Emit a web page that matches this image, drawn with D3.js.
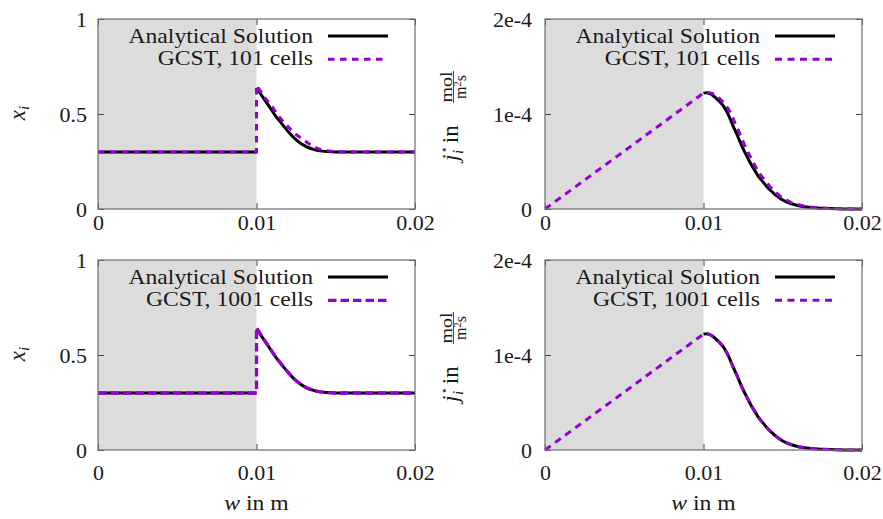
<html>
<head>
  <meta charset="utf-8">
  <title>GCST vs analytical</title>
  <script src="https://cdn.jsdelivr.net/npm/d3@7"></script>
</head>
<body style="margin:0; background:#fff">
<script>
// ticks
const wTicks = [0, 0.01, 0.02];
const wTickLabels = ["0", "0.01", "0.02"];
const xiTicks = [0, 0.5, 1];
const xiTickLabels = ["0", "0.5", "1"];
const jTicks = [0, 1e-4, 2e-4];
const jTickLabels = ["0", "1e-4", "2e-4"];

// mole fraction x_i, analytical (null = gap at the jump)
const xiAnaW = [0, 0.01, null, 0.01, 0.0104, 0.0108, 0.0112, 0.0116, 0.012, 0.0124, 0.0128, 0.0132, 0.0136, 0.014, 0.0145, 0.015, 0.016, 0.018, 0.02];
const xiAnaV = [0.3, 0.3, null, 0.637, 0.589, 0.540, 0.490, 0.448, 0.408, 0.372, 0.345, 0.326, 0.314, 0.306, 0.302, 0.300, 0.300, 0.300, 0.300];
// GCST 101 cells
const xi101W = [0, 0.01, 0.01, 0.0105, 0.011, 0.0114, 0.0119, 0.0124, 0.013, 0.0135, 0.0141, 0.015, 0.016, 0.018, 0.02];
const xi101V = [0.3, 0.3, 0.652, 0.588, 0.538, 0.488, 0.441, 0.398, 0.362, 0.332, 0.310, 0.301, 0.300, 0.300, 0.300];
// GCST 1001 cells
const xi1001W = [0, 0.01, 0.01, 0.0104, 0.0108, 0.0112, 0.0116, 0.012, 0.0124, 0.0128, 0.0132, 0.0136, 0.014, 0.0145, 0.015, 0.016, 0.018, 0.02];
const xi1001V = [0.3, 0.3, 0.645, 0.590, 0.541, 0.491, 0.448, 0.408, 0.372, 0.345, 0.326, 0.314, 0.306, 0.302, 0.300, 0.300, 0.300, 0.300];

// flux j_i*, analytical
const jAnaW = [0.01, 0.0102, 0.0104, 0.0106, 0.0108, 0.011, 0.0112, 0.0114, 0.0116, 0.0118, 0.012, 0.0122, 0.0124, 0.0126, 0.0128, 0.013, 0.0132, 0.0134, 0.0136, 0.0138, 0.014, 0.0142, 0.0144, 0.0146, 0.0148, 0.015, 0.0155, 0.016, 0.0165, 0.017, 0.018, 0.019, 0.02];
const jAnaV = [1.22e-4, 1.225e-4, 1.215e-4, 1.195e-4, 1.165e-4, 1.135e-4, 1.095e-4, 1.045e-4, 0.98e-4, 0.90e-4, 0.825e-4, 0.75e-4, 0.67e-4, 0.60e-4, 0.535e-4, 0.47e-4, 0.415e-4, 0.36e-4, 0.315e-4, 0.275e-4, 0.235e-4, 0.20e-4, 0.17e-4, 0.14e-4, 0.115e-4, 0.095e-4, 0.058e-4, 0.035e-4, 0.02e-4, 0.012e-4, 0.004e-4, 0.001e-4, 0];
// GCST 101 cells
const j101W = [0, 0.01, 0.0103, 0.0106, 0.0108, 0.011, 0.0112, 0.0114, 0.0116, 0.0118, 0.012, 0.0122, 0.0124, 0.0126, 0.0128, 0.013, 0.0132, 0.0134, 0.0136, 0.0138, 0.014, 0.0142, 0.0144, 0.0146, 0.0148, 0.015, 0.0155, 0.016, 0.0165, 0.017, 0.018, 0.019, 0.02];
const j101V = [0, 1.22e-4, 1.225e-4, 1.215e-4, 1.195e-4, 1.165e-4, 1.135e-4, 1.095e-4, 1.045e-4, 0.98e-4, 0.90e-4, 0.825e-4, 0.75e-4, 0.67e-4, 0.60e-4, 0.535e-4, 0.47e-4, 0.415e-4, 0.36e-4, 0.315e-4, 0.275e-4, 0.235e-4, 0.20e-4, 0.17e-4, 0.14e-4, 0.115e-4, 0.07e-4, 0.045e-4, 0.025e-4, 0.015e-4, 0.006e-4, 0.002e-4, 0];
// GCST 1001 cells: lies on the analytical curve, plus the linear part
const j1001W = [0, 0.01, 0.0102, 0.0104, 0.0106, 0.0108, 0.011, 0.0112, 0.0114, 0.0116, 0.0118, 0.012, 0.0122, 0.0124, 0.0126, 0.0128, 0.013, 0.0132, 0.0134, 0.0136, 0.0138, 0.014, 0.0142, 0.0144, 0.0146, 0.0148, 0.015, 0.0155, 0.016, 0.0165, 0.017, 0.018, 0.019, 0.02];
const j1001V = [0, 1.22e-4, 1.225e-4, 1.215e-4, 1.195e-4, 1.165e-4, 1.135e-4, 1.095e-4, 1.045e-4, 0.98e-4, 0.90e-4, 0.825e-4, 0.75e-4, 0.67e-4, 0.60e-4, 0.535e-4, 0.47e-4, 0.415e-4, 0.36e-4, 0.315e-4, 0.275e-4, 0.235e-4, 0.20e-4, 0.17e-4, 0.14e-4, 0.115e-4, 0.095e-4, 0.058e-4, 0.035e-4, 0.02e-4, 0.012e-4, 0.004e-4, 0.001e-4, 0];

const gap = 0.01; // end of the grey region
const purple = "#9400d3";
const frameCol = "#777";
const ink = "#1a1a1a";
const serif = '"Liberation Serif"';
const stretch = 1.075; // CM is a bit wider than Times

const svg = d3.select("body").append("svg")
  .attr("width", 883)
  .attr("height", 519);

const zip = (ws, vs) => ws.map((w, i) => ({ w: w, v: vs[i] }));

// text helper, font set as inline style
function txt(parent, size) {
  return parent.append("text")
    .style("font-family", serif).style("font-size", size + "px").style("fill", ink);
}

function panel(p) {
  const x = d3.scaleLinear().domain([0, 0.02]).range([p.x0, p.x1]);
  const y = d3.scaleLinear().domain(p.yDomain).range([p.y1, p.y0]);
  const g = svg.append("g");

  // grey area left of 0.01
  g.append("rect")
    .attr("x", x(0)).attr("y", p.y0)
    .attr("width", x(gap) - x(0)).attr("height", p.y1 - p.y0)
    .attr("fill", "#dcdcdc");

  // axes, ticks pointing inward
  const xb = d3.axisBottom(x).tickValues(wTicks)
    .tickFormat((d, i) => wTickLabels[i])
    .tickSizeInner(-6).tickSizeOuter(0).tickPadding(p.xPad);
  const xt = d3.axisTop(x).tickValues(wTicks).tickFormat("").tickSizeInner(-6).tickSizeOuter(0);
  const yl = d3.axisLeft(y).tickValues(p.yTicks)
    .tickFormat((d, i) => p.yLabels[i])
    .tickSizeInner(-6).tickSizeOuter(0).tickPadding(p.yPad);
  const yr = d3.axisRight(y).tickValues(p.yTicks).tickFormat("").tickSizeInner(-6).tickSizeOuter(0);

  [[xb, `translate(0,${p.y1})`, null], [xt, `translate(0,${p.y0})`, null],
   [yl, `translate(${p.x0},0)`, "0.34em"], [yr, `translate(${p.x1},0)`, null]].forEach(([ax, tr, dy]) => {
    const a = g.append("g").attr("transform", tr).call(ax);
    a.select(".domain").remove();
    a.selectAll("line").attr("stroke", "#444").attr("stroke-width", 1);
    a.selectAll("text")
      .style("font-family", serif)
      .style("font-size", "22px").style("fill", ink);
    if (dy) a.selectAll("text").attr("dy", dy);
  });

  // curves
  const line = d3.line()
    .defined(d => d.v != null)
    .x(d => x(d.w)).y(d => y(d.v));

  g.append("path")
    .attr("d", line.curve(d3.curveMonotoneX)(zip(p.ana[0], p.ana[1])))
    .attr("fill", "none").attr("stroke", "#000").attr("stroke-width", 3);
  g.append("path")
    .attr("d", line.curve(d3.curveLinear)(zip(p.num[0], p.num[1])))
    .attr("fill", "none").attr("stroke", purple).attr("stroke-width", p.dashW)
    .attr("stroke-dasharray", p.dash);

  // frame
  g.append("rect")
    .attr("x", p.x0).attr("y", p.y0)
    .attr("width", p.x1 - p.x0).attr("height", p.y1 - p.y0)
    .attr("fill", "none").attr("stroke", frameCol).attr("stroke-width", 1.3);

  // legend
  const lx = p.x1 - 102;
  const entries = [
    { label: "Analytical Solution", col: "#000", dash: null, w: 3 },
    { label: p.numLabel, col: purple, dash: p.dash, w: p.dashW }
  ];
  entries.forEach((e, i) => {
    const t = txt(g, 22)
      .attr("x", lx).attr("y", p.y0 + 23.7 + i * 22.3)
      .attr("text-anchor", "end")
      .text(e.label);
    t.attr("textLength", t.node().getComputedTextLength() * stretch)
      .attr("lengthAdjust", "spacingAndGlyphs");
    g.append("line")
      .attr("x1", p.x1 - 87).attr("x2", p.x1 - 27)
      .attr("y1", p.y0 + 17 + i * 23.3).attr("y2", p.y0 + 17 + i * 23.3)
      .attr("stroke", e.col).attr("stroke-width", e.w)
      .attr("stroke-dasharray", e.dash);
  });

  // y label
  const cy = (p.y0 + p.y1) / 2;
  if (p.kind === "xi") {
    const yl2 = svg.append("g").attr("transform", `translate(25,${cy - 1}) rotate(-90)`);
    const t = txt(yl2, 23).attr("text-anchor", "middle");
    t.append("tspan").style("font-style", "italic").text("x");
    t.append("tspan").style("font-style", "italic").style("font-size", "15px").attr("dy", 4).text("i");
  } else {
    const lg = svg.append("g").attr("transform", `translate(${p.x0 - 87},${cy + 2}) rotate(-90)`);
    const t = txt(lg, 23).attr("x", -45);
    t.append("tspan").style("font-style", "italic").text("j");
    t.append("tspan").style("font-family", '"DejaVu Sans"').style("font-size", "12px").attr("dy", -10).attr("dx", 1).text("⋆");
    t.append("tspan").style("font-style", "italic").style("font-size", "15px").attr("dy", 15).attr("dx", -8).text("i");
    t.append("tspan").attr("dy", -5).attr("dx", 1).text(" in");
    txt(lg, 16).attr("x", 29).attr("y", -6.5)
      .attr("text-anchor", "middle")
      .attr("textLength", 31).attr("lengthAdjust", "spacingAndGlyphs")
      .text("mol");
    lg.append("line").attr("x1", 13).attr("x2", 45).attr("y1", -4.5).attr("y2", -4.5)
      .attr("stroke", ink).attr("stroke-width", 0.8);
    const ms = txt(lg, 16).attr("x", 29).attr("y", 8)
      .attr("text-anchor", "middle");
    ms.append("tspan").text("m");
    ms.append("tspan").style("font-size", "11px").attr("dy", -5).text("2");
    ms.append("tspan").attr("dy", 5).text("s");
  }

  // x label on bottom row
  if (p.xLabel) {
    const t = txt(svg, 22)
      .attr("x", (p.x0 + p.x1) / 2).attr("y", 510)
      .attr("text-anchor", "middle");
    t.append("tspan").style("font-style", "italic").text("w");
    t.append("tspan").text(" in m");
    t.attr("textLength", t.node().getComputedTextLength() * stretch)
      .attr("lengthAdjust", "spacingAndGlyphs");
  }
}

panel({ kind: "xi", x0: 98, x1: 415, y0: 19, y1: 209, yDomain: [0, 1], yTicks: xiTicks, yLabels: xiTickLabels,
  xPad: 5, yPad: 11, ana: [xiAnaW, xiAnaV], num: [xi101W, xi101V], numLabel: "GCST, 101 cells",
  dash: "6.5,5.5", dashW: 3 });
panel({ kind: "j", x0: 545, x1: 862, y0: 19, y1: 209, yDomain: [0, 2e-4], yTicks: jTicks, yLabels: jTickLabels,
  xPad: 5, yPad: 13, ana: [jAnaW, jAnaV], num: [j101W, j101V], numLabel: "GCST, 101 cells",
  dash: "7,5.5", dashW: 3 });
panel({ kind: "xi", x0: 98, x1: 415, y0: 260, y1: 450, yDomain: [0, 1], yTicks: xiTicks, yLabels: xiTickLabels,
  xPad: 14, yPad: 11, ana: [xiAnaW, xiAnaV], num: [xi1001W, xi1001V], numLabel: "GCST, 1001 cells",
  dash: "8.5,4", dashW: 3.3, xLabel: true });
panel({ kind: "j", x0: 545, x1: 862, y0: 260, y1: 450, yDomain: [0, 2e-4], yTicks: jTicks, yLabels: jTickLabels,
  xPad: 14, yPad: 13, ana: [jAnaW, jAnaV], num: [j1001W, j1001V], numLabel: "GCST, 1001 cells",
  dash: "7,5.5", dashW: 3, xLabel: true });
</script>
</body>
</html>
